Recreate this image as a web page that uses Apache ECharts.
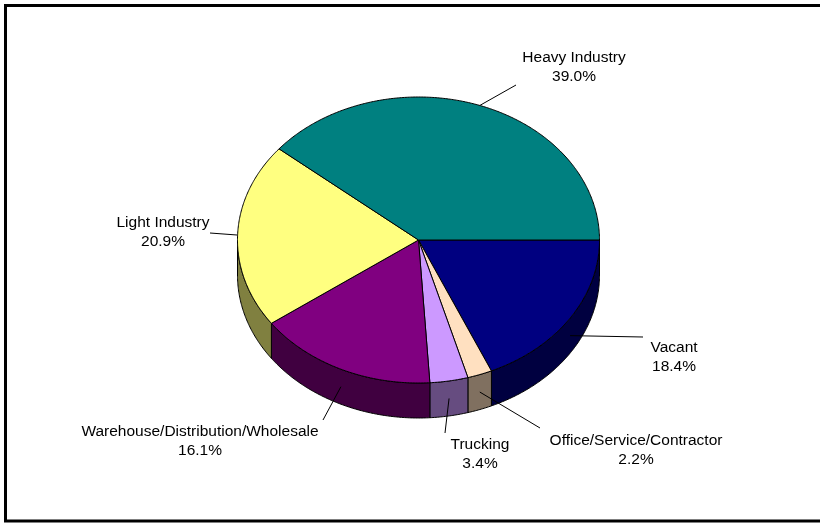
<!DOCTYPE html>
<html>
<head>
<meta charset="utf-8">
<title>Land Use Share</title>
<script src="https://cdn.jsdelivr.net/npm/echarts@6/dist/echarts.min.js"></script>
<style>
  html, body { margin: 0; padding: 0; background: #ffffff; }
  #chart { width: 820px; height: 523px; }
</style>
</head>
<body>
<div id="chart"></div>
<script>
// Land-use categories, listed clockwise from the 3 o'clock position
const categories = ['Vacant', 'Office/Service/Contractor', 'Trucking',
  'Warehouse/Distribution/Wholesale', 'Light Industry', 'Heavy Industry'];
const shares = [18.4, 2.2, 3.4, 16.1, 20.9, 39.0];

// Face colours and the darker tones used on the rim of the disc
const topColors = ['#000080', '#FFE0C0', '#CC99FF', '#800080', '#FFFF80', '#008080'];
const sideColors = ['#000040', '#807060', '#664C80', '#400040', '#808040', '#004040'];

// Tilted-disc geometry
const CX = 418.5, CY = 240, RX = 181, RY = 143, DEPTH = 35;

// Label centres and the outer end of each leader line
const labelLayout = [
  { c: [674, 357], end: [643, 337] },
  { c: [636, 450], end: [540, 428] },
  { c: [480, 454], end: [445, 433] },
  { c: [200, 441], end: [323, 420] },
  { c: [163, 232], end: [210, 233] },
  { c: [574, 67],  end: [516, 85] }
];

const total = shares.reduce((a, b) => a + b, 0);
const startDeg = [];
shares.reduce((acc, v, i) => { startDeg[i] = acc; return acc + v / total * 360; }, 0);

function pt(deg, dy) {
  const r = deg * Math.PI / 180;
  return [CX + RX * Math.cos(r), CY + RY * Math.sin(r) + (dy || 0)];
}
function arc(a0, a1, dy) {
  const pts = [];
  const n = Math.max(2, Math.ceil(Math.abs(a1 - a0) / 0.5));
  for (let k = 0; k <= n; k++) pts.push(pt(a0 + (a1 - a0) * k / n, dy));
  return pts;
}
function sliceSpan(i, v) {
  const a0 = startDeg[i];
  return [a0, a0 + v / total * 360];
}

const seriesData = shares.map((v, i) => ({ name: categories[i], value: v }));

// Rim of the disc: only the front half (0..180 deg) faces the viewer
function renderSide(params, api) {
  const i = params.dataIndex;
  const [a0, a1] = sliceSpan(i, api.value(0));
  const s = Math.max(a0, 0), e = Math.min(a1, 180);
  if (e <= s) return { type: 'group', children: [] };
  const pts = arc(s, e, 0).concat(arc(e, s, DEPTH));
  return {
    type: 'polygon',
    shape: { points: pts },
    style: { fill: sideColors[i], stroke: '#000', lineWidth: 1, lineJoin: 'round' }
  };
}

// Upper face of each slice
function renderTop(params, api) {
  const i = params.dataIndex;
  const [a0, a1] = sliceSpan(i, api.value(0));
  const pts = [[CX, CY]].concat(arc(a0, a1, 0));
  return {
    type: 'polygon',
    shape: { points: pts },
    style: { fill: topColors[i], stroke: '#000', lineWidth: 1, lineJoin: 'round' }
  };
}

// Leader line from the slice's middle to its label
function renderLabel(params, api) {
  const i = params.dataIndex;
  const v = api.value(0);
  const [a0, a1] = sliceSpan(i, v);
  const mid = (a0 + a1) / 2;
  const m = ((mid % 360) + 360) % 360;
  const front = m > 0 && m < 180;
  const from = pt(mid, front ? DEPTH / 2 : 0);
  const lay = labelLayout[i];
  return {
    type: 'group',
    children: [
      {
        type: 'line',
        shape: { x1: from[0], y1: from[1], x2: lay.end[0], y2: lay.end[1] },
        style: { stroke: '#000', lineWidth: 1 }
      },
      {
        type: 'text',
        x: lay.c[0], y: lay.c[1],
        style: {
          text: categories[i] + '\n' + v.toFixed(1) + '%',
          align: 'center', verticalAlign: 'middle',
          fontFamily: '"Liberation Sans", Arial, sans-serif',
          fontSize: 15.5, lineHeight: 19, fill: '#000'
        }
      }
    ]
  };
}

const chart = echarts.init(document.getElementById('chart'), null, { renderer: 'canvas' });
chart.setOption({
  animation: false,
  backgroundColor: '#ffffff',
  graphic: [{
    type: 'rect',
    shape: { x: 5.5, y: 5.5, width: 840, height: 515.5 },
    style: { fill: 'none', stroke: '#000', lineWidth: 3 },
    silent: true
  }],
  series: [
    { type: 'custom', coordinateSystem: 'none', z: 1, silent: true, renderItem: renderSide, data: seriesData },
    { type: 'custom', coordinateSystem: 'none', z: 2, silent: true, renderItem: renderTop, data: seriesData },
    { type: 'custom', coordinateSystem: 'none', z: 3, silent: true, renderItem: renderLabel, data: seriesData }
  ]
});
</script>
</body>
</html>
